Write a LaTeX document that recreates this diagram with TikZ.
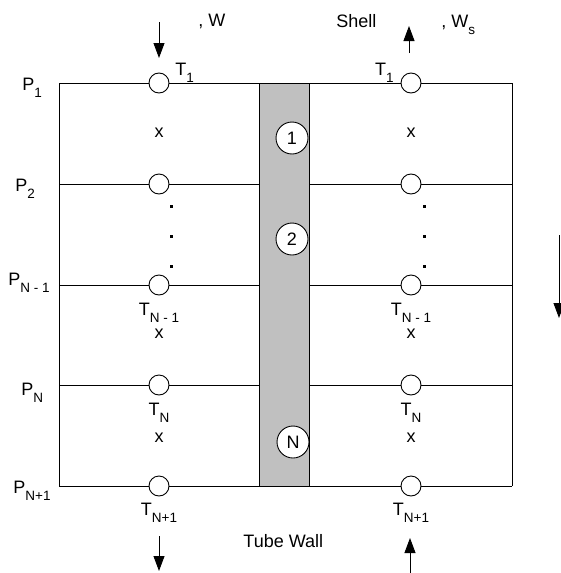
\documentclass[tikz,border=0pt]{standalone}
\usepackage{fontspec}
\setmainfont{Liberation Sans}
\usepackage{xcolor}
\usepackage{tikz}
\usetikzlibrary{arrows.meta}

\definecolor{wallgray}{RGB}{192,192,192}
\newcommand{\lowsub}[1]{\raisebox{-7.5pt}{\fontsize{13.5}{14}\selectfont #1}}

\begin{document}
\begin{tikzpicture}[
      x=1pt, y=-1pt, line width=0.9pt,
      lbl/.style={inner sep=0pt, font=\fontsize{18}{21}\selectfont},
      tap/.style={draw, circle, fill=white, minimum size=20pt, inner sep=0pt},
      cell/.style={draw, circle, fill=white, minimum size=32pt, inner sep=0pt, font=\fontsize{18}{21}\selectfont},
      arr/.style={-{Triangle[length=15pt, width=11pt]}}
    ]
    \useasboundingbox (0,0) rectangle (561,573);
    % Wall
    \draw[fill=wallgray] (259,83) rectangle (309,486);

    % Nodes
    \foreach \y/\n in {83/1, 184/2, 285/3, 385/4, 486/5} {
      \coordinate (l\n) at (59,\y);
      \coordinate (wl\n) at (259,\y);
      \coordinate (wr\n) at (309,\y);
      \coordinate (r\n) at (512,\y);
      \node[tap] (tc\n) at (159,\y) {};
      \node[tap] (sc\n) at (411,\y) {};
    }
    \node[cell] (w1) at (292,138) {1};
    \node[cell] (w2) at (292,239) {2};
    \node[cell] (wN) at (293,442) {N};

    \node[lbl, anchor=base west] (p1) at (22,90) {P\lowsub{1}};
    \node[lbl, anchor=base west] (p2) at (15,191) {P\lowsub{2}};
    \node[lbl, anchor=base west] (p3) at (8,285) {P\lowsub{N - 1}};
    \node[lbl, anchor=base west] (p4) at (21,395) {P\lowsub{N}};
    \node[lbl, anchor=base west] (p5) at (13,493) {P\lowsub{N+1}};

    \node[lbl, anchor=base west] (tt1) at (175,75) {T\lowsub{1}};
    \node[lbl, anchor=base] (tt3) at (159,315) {T\lowsub{N - 1}};
    \node[lbl, anchor=base] (tt4) at (159,415) {T\lowsub{N}};
    \node[lbl, anchor=base] (tt5) at (159,515) {T\lowsub{N+1}};
    \node[lbl, anchor=base east] (st1) at (394,75) {T\lowsub{1}};
    \node[lbl, anchor=base] (st3) at (411,315) {T\lowsub{N - 1}};
    \node[lbl, anchor=base] (st4) at (411,415) {T\lowsub{N}};
    \node[lbl, anchor=base] (st5) at (411,515) {T\lowsub{N+1}};

    \node[lbl, anchor=base] (tx1) at (159,137) {x};
    \node[lbl, anchor=base] (tx3) at (159,338) {x};
    \node[lbl, anchor=base] (tx4) at (159,442) {x};
    \node[lbl, anchor=base] (sx1) at (411,137) {x};
    \node[lbl, anchor=base] (sx3) at (411,338) {x};
    \node[lbl, anchor=base] (sx4) at (411,442) {x};

    \node[lbl, anchor=base west] (tw) at (198,26) {, W};
    \node[lbl, anchor=base west] (shell) at (336,27) {Shell};
    \node[lbl, anchor=base west] (sw) at (441,27) {, W\lowsub{s}};
    \node[lbl, anchor=base west] (wall) at (243,547) {Tube Wall};

    % dots
    \foreach \y in {206,236,266} {
      \fill (171,\y) +(-1.5,-1.5) rectangle +(1.5,1.5);
      \fill (424,\y) +(-1.5,-1.5) rectangle +(1.5,1.5);
    }

    % Edges
    \draw (l1) -- (l5);
    \draw (r1) -- (r5);
    \foreach \n in {1,...,5} {
      \draw (l\n) -- (tc\n) -- (wl\n);
      \draw (wr\n) -- (sc\n) -- (r\n);
    }

    % Flow arrows
    \coordinate (tin) at (159,22);
    \coordinate (tinend) at (159,58);
    \coordinate (sout) at (409,53);
    \coordinate (soutend) at (409,26);
    \coordinate (dir) at (559,235);
    \coordinate (dirend) at (559,318);
    \coordinate (tout) at (159,536);
    \coordinate (toutend) at (159,571);
    \coordinate (sin) at (410,573);
    \coordinate (sinend) at (410,538);
    \draw[arr] (tin) -- (tinend);
    \draw[arr] (sout) -- (soutend);
    \draw[arr] (dir) -- (dirend);
    \draw[arr] (tout) -- (toutend);
    \draw[arr] (sin) -- (sinend);
  \end{tikzpicture}
\end{document}
